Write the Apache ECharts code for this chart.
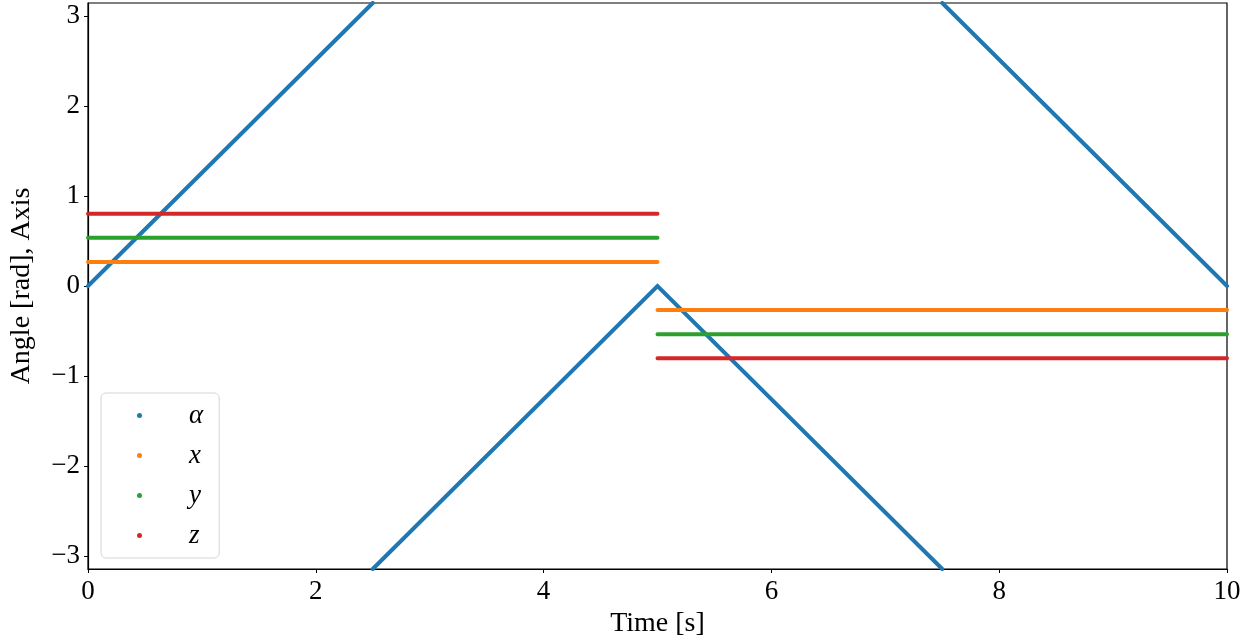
<!DOCTYPE html>
<html>
<head>
<meta charset="utf-8">
<script src="https://cdn.jsdelivr.net/npm/echarts@6/dist/echarts.min.js"></script>
<style>
  html, body { margin: 0; padding: 0; background: #fff; }
  #chart { width: 1242px; height: 639px; }
</style>
</head>
<body>
<div id="chart"></div>
<script>
// Rotation angle (wrapped to [-pi, pi]) sampled at its corners; '-' breaks the line at a wrap
const alphaTime  = [0, 2.5, 2.5, 2.5, 5, 7.5, 7.5, 7.5, 10];
const alphaAngle = [0, 3.1416, '-', -3.1416, 0, -3.1416, '-', 3.1416, 0];

// Rotation axis components, constant on each half of the run
const axisTime = [0, 5, 5, 5, 10];
const axisX = [0.267, 0.267, '-', -0.267, -0.267];
const axisY = [0.535, 0.535, '-', -0.535, -0.535];
const axisZ = [0.802, 0.802, '-', -0.802, -0.802];

const seriesNames = ['α', 'x', 'y', 'z'];
const seriesColors = ['#1f77b4', '#ff7f0e', '#2ca02c', '#d62728'];

const xTicks = [0, 2, 4, 6, 8, 10];
const yTicks = [-3, -2, -1, 0, 1, 2, 3];

const FONT = 'Liberation Serif';
const pairs = (ts, vs) => ts.map((t, i) => [t, vs[i]]);
const minus = v => String(v).replace('-', '\u2212');

const chart = echarts.init(document.getElementById('chart'), null, { renderer: 'canvas' });

const lineSeries = (name, color, data) => ({
  name, type: 'line', data, showSymbol: false, connectNulls: false,
  lineStyle: { color, width: 4, cap: 'round', join: 'miter' },
  itemStyle: { color },
  emphasis: { disabled: true },
  animation: false
});

chart.setOption({
  animation: false,
  grid: {
    left: 88, right: 15, top: 3, bottom: 70,
    outerBoundsMode: 'none', containLabel: false,
    show: true, borderColor: '#000', borderWidth: 1.2, backgroundColor: 'transparent'
  },
  legend: {
    orient: 'vertical',
    left: 101, top: 393,
    data: seriesNames.map(n => ({ name: n, icon: 'circle' })),
    itemWidth: 5, itemHeight: 5, itemGap: 13,
    padding: [9, 16, 9, 36],
    borderColor: '#d5d5d5', borderWidth: 1, borderRadius: 5,
    backgroundColor: 'rgba(255,255,255,0.8)',
    selectedMode: false,
    formatter: n => '{m|' + n + '}',
    textStyle: {
      fontFamily: FONT, fontStyle: 'italic', fontSize: 27, color: '#000', lineHeight: 26,
      rich: {
        m: { fontFamily: FONT, fontStyle: 'italic', fontSize: 27, color: '#000', lineHeight: 26, padding: [0, 0, 0, 42] }
      }
    }
  },
  xAxis: {
    type: 'value', min: 0, max: 10, interval: 2,
    name: 'Time [s]', nameLocation: 'middle', nameGap: 40,
    nameTextStyle: { fontFamily: FONT, fontSize: 28, color: '#000' },
    axisLine: { show: true, onZero: false, lineStyle: { color: '#000', width: 1.2 } },
    axisTick: { show: true, length: 4, lineStyle: { color: '#000', width: 1 } },
    axisLabel: {
      fontFamily: FONT, fontSize: 27, color: '#000', margin: 9,
      customValues: xTicks, formatter: v => minus(v)
    },
    splitLine: { show: false }
  },
  yAxis: {
    type: 'value', min: -Math.PI, max: Math.PI,
    name: 'Angle [rad], Axis', nameLocation: 'middle', nameGap: 52, nameRotate: 90,
    nameTextStyle: { fontFamily: FONT, fontSize: 28, color: '#000' },
    axisLine: { show: true, onZero: false, lineStyle: { color: '#000', width: 1.2 } },
    axisTick: { show: true, length: 4, customValues: yTicks, lineStyle: { color: '#000', width: 1 } },
    axisLabel: {
      fontFamily: FONT, fontSize: 27, color: '#000', margin: 8,
      customValues: yTicks, formatter: v => minus(v)
    },
    splitLine: { show: false }
  },
  series: [
    lineSeries(seriesNames[0], seriesColors[0], pairs(alphaTime, alphaAngle)),
    lineSeries(seriesNames[1], seriesColors[1], pairs(axisTime, axisX)),
    lineSeries(seriesNames[2], seriesColors[2], pairs(axisTime, axisY)),
    lineSeries(seriesNames[3], seriesColors[3], pairs(axisTime, axisZ))
  ]
});
</script>
</body>
</html>
